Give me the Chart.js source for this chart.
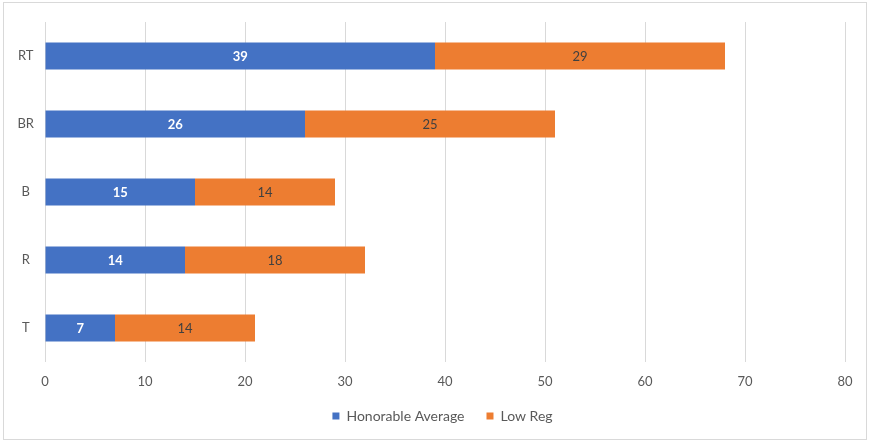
<!DOCTYPE html>
<html>
<head>
<meta charset="utf-8">
<script src="https://cdn.jsdelivr.net/npm/chart.js@4/dist/chart.umd.min.js"></script>
<style>
  html, body { margin: 0; padding: 0; background: #fff; }
  #wrap { position: relative; width: 869px; height: 442px; }
  #frame { position: absolute; left: 3px; top: 2px; width: 862px; height: 436px; border: 1px solid #d9d9d9; pointer-events: none; }
  canvas { position: absolute; left: 0; top: 0; }
</style>
</head>
<body>
<div id="wrap">
  <canvas id="chartGroups" width="869" height="442"></canvas>
  <div id="frame"></div>
</div>
<script>
const categories = ['RT', 'BR', 'B', 'R', 'T'];
const honorableAverage = [39, 26, 15, 14, 7];
const lowReg = [29, 25, 14, 18, 14];
const xTicks = [0, 10, 20, 30, 40, 50, 60, 70, 80];

const FONT = "Lato, 'Open Sans', sans-serif";
const GRAY = '#595959';

// writes each segment's value in the middle of its bar
const barValues = {
    id: 'barValues',
    afterDatasetsDraw(chart) {
        const ctx = chart.ctx;
        chart.data.datasets.forEach((ds, i) => {
            const meta = chart.getDatasetMeta(i);
            meta.data.forEach((bar, j) => {
                const mid = (bar.x + bar.base) / 2;
                ctx.save();
                ctx.font = (i === 0 ? 'bold ' : '') + '13px ' + FONT;
                ctx.fillStyle = i === 0 ? '#ffffff' : '#404040';
                ctx.textAlign = 'center';
                ctx.textBaseline = 'middle';
                ctx.fillText(ds.data[j], mid, bar.y + 1);
                ctx.restore();
            });
        });
    }
};

// nudge the legend so it sits centred under the whole canvas, a bit higher
const legendNudge = {
    id: 'legendNudge',
    afterLayout(chart) {
        const lg = chart.legend;
        if (!lg) return;
        lg.left += 20;
        lg.right += 20;
        lg.top -= 5;
        lg.bottom -= 5;
    }
};

const config = {
    type: 'bar',
    data: {
        labels: categories,
        datasets: [
            {
                label: 'Honorable Average',
                data: honorableAverage,
                backgroundColor: '#4472C4',
                barPercentage: 0.4,
                categoryPercentage: 1,
            },
            {
                label: 'Low Reg',
                data: lowReg,
                backgroundColor: '#ED7D31',
                barPercentage: 0.4,
                categoryPercentage: 1,
            }
        ]
    },
    options: {
        indexAxis: 'y',
        responsive: false,
        animation: false,
        layout: {
            padding: { left: 0, right: 24, top: 22, bottom: 4 }
        },
        plugins: {
            tooltip: { enabled: false },
            legend: {
                position: 'bottom',
                labels: {
                    boxWidth: 7,
                    boxHeight: 7,
                    padding: 22,
                    color: GRAY,
                    font: { family: FONT, size: 14 }
                }
            }
        },
        scales: {
            x: {
                stacked: true,
                min: 0,
                max: 80,
                afterBuildTicks(axis) {
                    axis.ticks = xTicks.map(v => ({ value: v }));
                },
                afterFit(axis) { axis.height = 30; },
                border: { display: false },
                grid: { color: '#d9d9d9', lineWidth: 1, drawTicks: false },
                ticks: {
                    color: GRAY,
                    padding: 12,
                    font: { family: FONT, size: 13 }
                }
            },
            y: {
                stacked: true,
                afterFit(axis) { axis.width = 45; },
                border: { display: false },
                grid: { display: false, drawTicks: false },
                ticks: {
                    color: GRAY,
                    padding: 11,
                    crossAlign: 'center',
                    font: { family: FONT, size: 13 }
                }
            }
        }
    },
    plugins: [barValues, legendNudge]
};

new Chart(document.getElementById('chartGroups'), config);
</script>
</body>
</html>
